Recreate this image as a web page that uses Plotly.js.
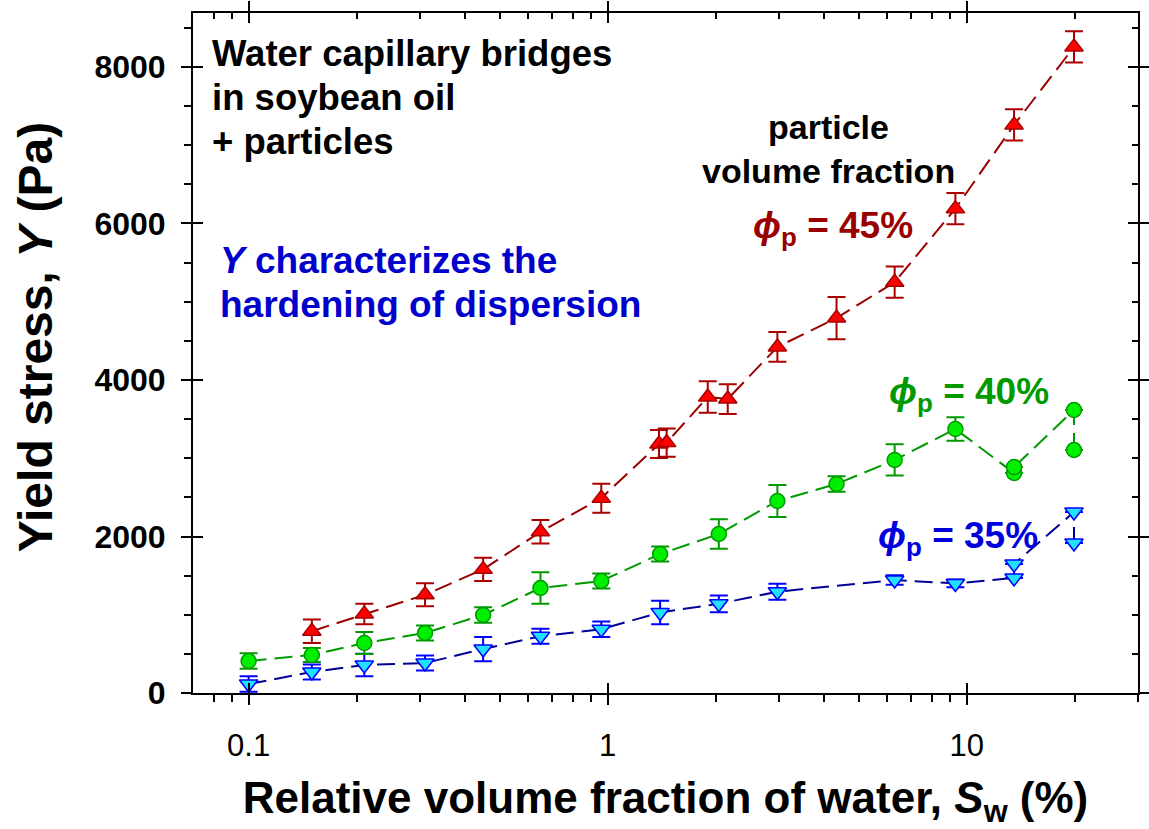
<!DOCTYPE html>
<html>
<head>
<meta charset="utf-8">
<script src="https://cdn.plot.ly/plotly-3.0.1.min.js"></script>
<style>html,body{margin:0;padding:0;background:#fff;}#chart{width:1149px;height:829px;}</style>
</head>
<body>
<div id="chart"></div>
<script>
// ---- data ----
const redX   = [0.15, 0.21, 0.31, 0.45, 0.65, 0.96, 1.39, 1.46, 1.9, 2.16, 2.97, 4.34, 6.3, 9.3, 13.55, 19.9];
const redY   = [790, 1010, 1255, 1580, 2060, 2490, 3182, 3200, 3783, 3757, 4422, 4792, 5250, 6190, 7260, 8256];
const redErr = [150, 130, 147, 150, 150, 185, 180, 180, 200, 190, 190, 270, 200, 200, 200, 200];

const greenX   = [0.1, 0.15, 0.21, 0.31, 0.45, 0.65, 0.96, 1.4, 2.04, 2.97, 4.34, 6.3, 9.3, 13.55, 13.55, 19.9, 19.9];
const greenY   = [409, 486, 639, 767, 997, 1342, 1431, 1776, 2032, 2454, 2671, 2978, 3374, 2811, 2888, 3617, 3105];
const greenErr = [100, 90, 140, 95, 100, 200, 95, 95, 190, 205, 100, 200, 150, null, null, null, null];

const blueX   = [0.1, 0.15, 0.21, 0.31, 0.45, 0.65, 0.96, 1.4, 2.04, 2.97, 6.3, 9.3, 13.55, 13.55, 19.9, 19.9];
const blueY   = [115, 268, 358, 383, 562, 725, 815, 1030, 1140, 1295, 1444, 1400, 1470, 1648, 2313, 1917];
const blueErr = [100, 95, 145, 95, 155, 95, 100, 150, 107, 102, 60, 50, null, null, null, null];

const xMajor  = [0.1, 1, 10];
const xLabels = ['0.1', '1', '10'];
const xMinor  = [0.08, 0.09, 0.2, 0.3, 0.4, 0.5, 0.6, 0.7, 0.8, 0.9, 2, 3, 4, 5, 6, 7, 8, 9, 20, 30];
const yMajor  = [0, 2000, 4000, 6000, 8000];
const yLabels = ['0', '2000', '4000', '6000', '8000'];

const FONT = 'Liberation Sans, Arial, sans-serif';
const xr = [Math.log10(0.07), Math.log10(30)];
const yr = [0, 8690];

function series(x, y, err, sym, size, fill, edge, lineCol, errCol) {
  return {
    x: x, y: y, type: 'scatter', mode: 'lines+markers',
    line: {color: lineCol, width: 2, dash: '18px,8px'},
    marker: {symbol: sym, size: size, color: fill, line: {color: edge, width: 1.5}},
    error_y: {type: 'data', array: err, visible: true, color: errCol, thickness: 2, width: 9},
    showlegend: false, hoverinfo: 'x+y'
  };
}

// helper (empty) traces so that the overlaid frame axes get drawn
function frameTrace(xa, ya) {
  return {x: [null], y: [null], xaxis: xa, yaxis: ya, type: 'scatter', mode: 'markers',
          marker: {opacity: 0}, showlegend: false, hoverinfo: 'skip'};
}

const traces = [
  frameTrace('x2', 'y2'), frameTrace('x3', 'y3'), frameTrace('x4', 'y4'),
  series(blueX, blueY, blueErr, 'triangle-down', 16, '#22E0FF', '#0000FF', '#000099', '#0000FF'),
  series(greenX, greenY, greenErr, 'circle', 15, '#00EE00', '#009900', '#009900', '#009900'),
  series(redX, redY, redErr, 'triangle-up', 16, '#FF0000', '#AA0000', '#990000', '#AA0000')
];

const tickBase = {tickcolor: 'black', tickwidth: 2, showgrid: false, zeroline: false, fixedrange: true};

function note(text, x, y, size, color, xanchor, extra) {
  return Object.assign({xref: 'paper', yref: 'paper', x: x, y: y, xanchor: xanchor, yanchor: 'middle',
    showarrow: false, text: text, font: {family: FONT, size: size, color: color}}, extra || {});
}

const layout = {
  width: 1149, height: 829,
  margin: {l: 193, r: 11, t: 13, b: 136},
  paper_bgcolor: 'white', plot_bgcolor: 'white',
  font: {family: FONT, color: 'black'},
  xaxis: Object.assign({}, tickBase, {
    type: 'log', range: xr, showline: true, linewidth: 2, linecolor: 'black',
    ticks: 'outside', ticklen: 10, tickmode: 'array', tickvals: xMajor, ticktext: xLabels,
    tickfont: {family: FONT, size: 31, color: 'black'}, ticklabelstandoff: 14,
    minor: {tickmode: 'array', tickvals: xMinor, ticks: 'outside', ticklen: 7, tickwidth: 2, tickcolor: 'black', showgrid: false},
    title: {text: 'Relative volume fraction of water, <i>S</i><sub>w</sub> (%)', font: {family: FONT, size: 44, weight: 'bold', color: 'black'}, standoff: 20}
  }),
  xaxis2: Object.assign({}, tickBase, {
    type: 'log', range: xr, overlaying: 'x', anchor: 'y', side: 'bottom', showline: false,
    ticks: 'inside', ticklen: 10, tickmode: 'array', tickvals: xMajor, showticklabels: false
  }),
  xaxis3: Object.assign({}, tickBase, {
    type: 'log', range: xr, overlaying: 'x', anchor: 'y', side: 'top', showline: true, linewidth: 2, linecolor: 'black',
    ticks: 'outside', ticklen: 10, tickmode: 'array', tickvals: xMajor, showticklabels: false
  }),
  xaxis4: Object.assign({}, tickBase, {
    type: 'log', range: xr, overlaying: 'x', anchor: 'y', side: 'top', showline: false,
    ticks: 'inside', ticklen: 10, tickmode: 'array', tickvals: xMajor, showticklabels: false,
    minor: {tickmode: 'array', tickvals: xMinor, ticks: 'inside', ticklen: 6, tickwidth: 2, tickcolor: 'black', showgrid: false}
  }),
  yaxis: Object.assign({}, tickBase, {
    range: yr, showline: true, linewidth: 2, linecolor: 'black',
    ticks: 'outside', ticklen: 10, tickmode: 'array', tickvals: yMajor, ticktext: yLabels,
    tickfont: {family: FONT, size: 32, weight: 'bold', color: 'black'}, ticklabelstandoff: 9,
    minor: {dtick: 500, ticks: 'outside', ticklen: 7, tickwidth: 2, tickcolor: 'black', showgrid: false}
  }),
  yaxis2: Object.assign({}, tickBase, {
    range: yr, overlaying: 'y', anchor: 'x', side: 'left', showline: false,
    ticks: 'inside', ticklen: 10, tickmode: 'array', tickvals: yMajor, showticklabels: false
  }),
  yaxis3: Object.assign({}, tickBase, {
    range: yr, overlaying: 'y', anchor: 'x', side: 'right', showline: true, linewidth: 2, linecolor: 'black',
    ticks: 'outside', ticklen: 10, tickmode: 'array', tickvals: yMajor, showticklabels: false
  }),
  yaxis4: Object.assign({}, tickBase, {
    range: yr, overlaying: 'y', anchor: 'x', side: 'right', showline: false,
    ticks: 'inside', ticklen: 10, tickmode: 'array', tickvals: yMajor, showticklabels: false,
    minor: {dtick: 500, ticks: 'inside', ticklen: 6, tickwidth: 2, tickcolor: 'black', showgrid: false}
  }),
  annotations: [
    // y-axis title
    note('<b>Yield stress, <i>Y</i> (Pa)</b>', -0.167, 0.5235, 48, 'black', 'center', {textangle: -90}),
    // black description block
    note('<b>Water capillary bridges</b>', 0.018, 0.9404, 36.5, 'black', 'left'),
    note('<b>in soybean oil</b>', 0.018, 0.8757, 36.5, 'black', 'left'),
    note('<b>+ particles</b>', 0.018, 0.811, 36.5, 'black', 'left'),
    // blue note
    note('<b><i>Y</i> characterizes the</b>', 0.026, 0.6353, 37, '#0000CC', 'left'),
    note('<b>hardening of dispersion</b>', 0.026, 0.5713, 37, '#0000CC', 'left'),
    // particle volume fraction
    note('<b>particle</b>', 0.673, 0.833, 34, 'black', 'center'),
    note('<b>volume fraction</b>', 0.673, 0.767, 34, 'black', 'center'),
    note('<b><i>ϕ</i><sub>p</sub> = 45%</b>', 0.677, 0.684, 37, '#990000', 'center'),
    note('<b><i>ϕ</i><sub>p</sub> = 40%</b>', 0.821, 0.44, 37, '#009900', 'center'),
    note('<b><i>ϕ</i><sub>p</sub> = 35%</b>', 0.81, 0.228, 37, '#0000DD', 'center')
  ]
};

Plotly.newPlot('chart', traces, layout, {displayModeBar: false, staticPlot: true});
</script>
</body>
</html>
